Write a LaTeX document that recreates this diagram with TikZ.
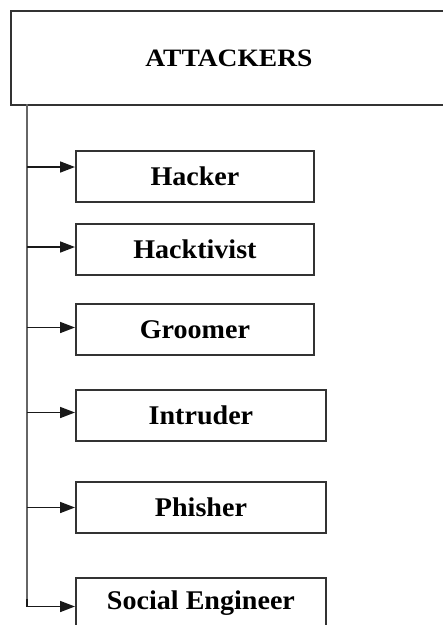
\documentclass[tikz,border=0pt]{standalone}
\usepackage{fontspec}
\setmainfont{Liberation Serif}
\newfontfamily\kidfont[FakeStretch=1.04]{Liberation Serif}
\newfontfamily\topfont[FakeStretch=1.1]{Liberation Serif}
\usetikzlibrary{arrows.meta}
\begin{document}
\begin{tikzpicture}[x=1pt,y=-1pt,
  box/.style={draw=black!80, line width=1.9pt, fill=white, inner sep=0pt, anchor=north west,
    font=\kidfont\fontsize{27}{30}\selectfont\bfseries},
  topbox/.style={box, font=\topfont\fontsize{25}{28}\selectfont\bfseries},
  spine/.style={draw=black!60, line width=2.2pt},
  link/.style={-{Triangle[length=15pt,width=11pt]}, line width=1.6pt, draw=black!90}]
\useasboundingbox (0,0) rectangle (443,625);
\clip (0,0) rectangle (443,625);
\fill[white] (0,0) rectangle (443,625);

\node[topbox, minimum width=436pt, minimum height=94pt] (top) at (10,10) {ATTACKERS};

\node[box, minimum width=238pt, minimum height=51pt] (hacker) at (75,150) {Hacker};
\node[box, minimum width=238pt, minimum height=51pt] (hacktivist) at (75,223) {Hacktivist};
\node[box, minimum width=238pt, minimum height=51pt] (groomer) at (75,303) {Groomer};
\node[box, minimum width=250pt, minimum height=51pt] (intruder) at (75,389) {Intruder};
\node[box, minimum width=250pt, minimum height=51pt] (phisher) at (75,481) {Phisher};
\node[box, minimum width=250pt, minimum height=51pt] (social) at (75,577) {Social Engineer};

\coordinate (s0) at (27,104);
\coordinate (a1) at (27,167);
\coordinate (a2) at (27,247);
\coordinate (a3) at (27,327.5);
\coordinate (a4) at (27,412.5);
\coordinate (a5) at (27,507.5);
\coordinate (a6) at (27,606.5);

\draw[spine] (s0) -- (a6);
\draw[link] (a1) -- (a1 -| hacker.west);
\draw[link] (a2) -- (a2 -| hacktivist.west);
\draw[link] (a3) -- (a3 -| groomer.west);
\draw[link] (a4) -- (a4 -| intruder.west);
\draw[link] (a5) -- (a5 -| phisher.west);
\draw[link] ([yshift=8pt]a6) -- (a6) -- (a6 -| social.west);
\end{tikzpicture}
\end{document}
